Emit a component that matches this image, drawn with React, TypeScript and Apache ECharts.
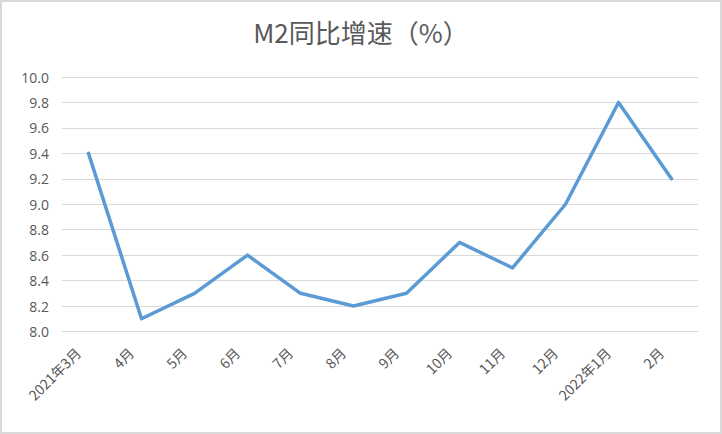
import React, { useEffect, useRef } from "react";
import * as echarts from "echarts";

const categories = ["2021年3月", "4月", "5月", "6月", "7月", "8月", "9月", "10月", "11月", "12月", "2022年1月", "2月"];
const m2Growth = [9.4, 8.1, 8.3, 8.6, 8.3, 8.2, 8.3, 8.7, 8.5, 9.0, 9.8, 9.2];
const titleText = "M2同比增速（%）";

export default function App() {
  const ref = useRef<HTMLDivElement>(null);
  useEffect(() => {
    if (!ref.current) return;
    const chart = echarts.init(ref.current, undefined, { renderer: "svg" });
    chart.setOption({
      animation: false,
      backgroundColor: "#ffffff",
      graphic: [
        {
          type: "rect",
          shape: { x: 1, y: 1, width: 720, height: 432 },
          style: { fill: "none", stroke: "#d9d9d9", lineWidth: 2 },
          silent: true,
        },
      ],
      title: {
        text: titleText,
        left: "center",
        top: 13,
        textStyle: {
          fontFamily: "'Noto Sans CJK SC', sans-serif",
          fontSize: 26,
          fontWeight: "normal",
          color: "#595959",
        },
      },
      grid: { left: 62, right: 24, top: 77, bottom: 102.5 },
      xAxis: {
        type: "category",
        data: categories,
        boundaryGap: true,
        axisLine: { show: true, lineStyle: { color: "#d9d9d9", width: 1 } },
        axisTick: { show: false },
        axisLabel: {
          rotate: 45,
          interval: 0,
          margin: 8,
          padding: [0, 15, 0, 0],
          color: "#595959",
          fontSize: 14,
          fontFamily: "'Noto Sans CJK SC', sans-serif",
        },
      },
      yAxis: {
        type: "value",
        min: 8,
        max: 10,
        interval: 0.2,
        axisLine: { show: false },
        axisTick: { show: false },
        splitLine: { lineStyle: { color: "#d9d9d9", width: 1 } },
        axisLabel: {
          margin: 13,
          color: "#595959",
          fontSize: 14,
          fontFamily: "'Open Sans', 'Noto Sans', sans-serif",
          formatter: (v: number) => v.toFixed(1),
        },
      },
      series: [
        {
          type: "line",
          data: m2Growth,
          showSymbol: false,
          symbol: "none",
          lineStyle: { color: "#5b9bd5", width: 3.5, cap: "round", join: "round" },
        },
      ],
    });
    return () => chart.dispose();
  }, []);
  return (
    <div style={{ position: "fixed", left: 0, top: 0, width: 722, height: 434 }}>
      <div ref={ref} style={{ width: 722, height: 434 }} />
    </div>
  );
}
